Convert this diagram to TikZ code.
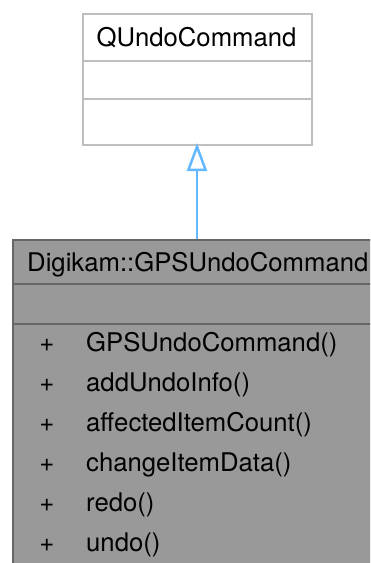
\documentclass[tikz,border=0pt]{standalone}
\usepackage{fontspec}
\setmainfont{TeX Gyre Heros}
\usetikzlibrary{arrows.meta}
\definecolor{lightborder}{HTML}{BFBFBF}
\definecolor{darkfill}{HTML}{999999}
\definecolor{darkborder}{HTML}{666666}
\definecolor{edgeblue}{HTML}{63B8FF}
\begin{document}
\begin{tikzpicture}[x=1pt,y=-1pt,
  txt/.style={inner sep=0pt,anchor=base,font=\fontsize{25.7}{30}\selectfont},
  lbox/.style={draw=lightborder,line width=2.2pt,fill=white},
  dbox/.style={draw=darkborder,line width=2.2pt,fill=darkfill}]
\useasboundingbox (0,0) rectangle (370,563);
\clip (0,0) rectangle (370,563);
% top class
\node[lbox,minimum width=229pt,minimum height=131pt,inner sep=0pt,anchor=north west] (base) at (82,13) {};
\draw[lightborder,line width=2.2pt] (82,61) -- (311,61) (82,99) -- (311,99);
\node[txt] (basename) at (196.5,46) {QUndoCommand};
% derived class
\node[dbox,minimum width=362pt,minimum height=330pt,inner sep=0pt,anchor=north west] (derived) at (12,239) {};
\draw[darkborder,line width=2.2pt] (12,284) -- (374,284) (12,324) -- (374,324);
\node[txt,anchor=base west] (dname) at (27,271) {Digikam::GPSUndoCommand};
\foreach \n/\t [count=\i from 0] in {m1/GPSUndoCommand(),m2/addUndoInfo(),m3/affectedItemCount(),m4/changeItemData(),m5/redo(),m6/undo()}{
  \node[txt] (p\n) at (47,351+40*\i) {+};
  \node[txt,anchor=base west] (\n) at (86,351+40*\i) {\t};
}
% inheritance
\coordinate (tip) at (197,143);
\coordinate (start) at (197,239);
\draw[edgeblue,line width=2.5pt,-{Triangle[open,length=28pt,width=20pt,fill=white]}] (start) -- (tip);
\end{tikzpicture}
\end{document}
